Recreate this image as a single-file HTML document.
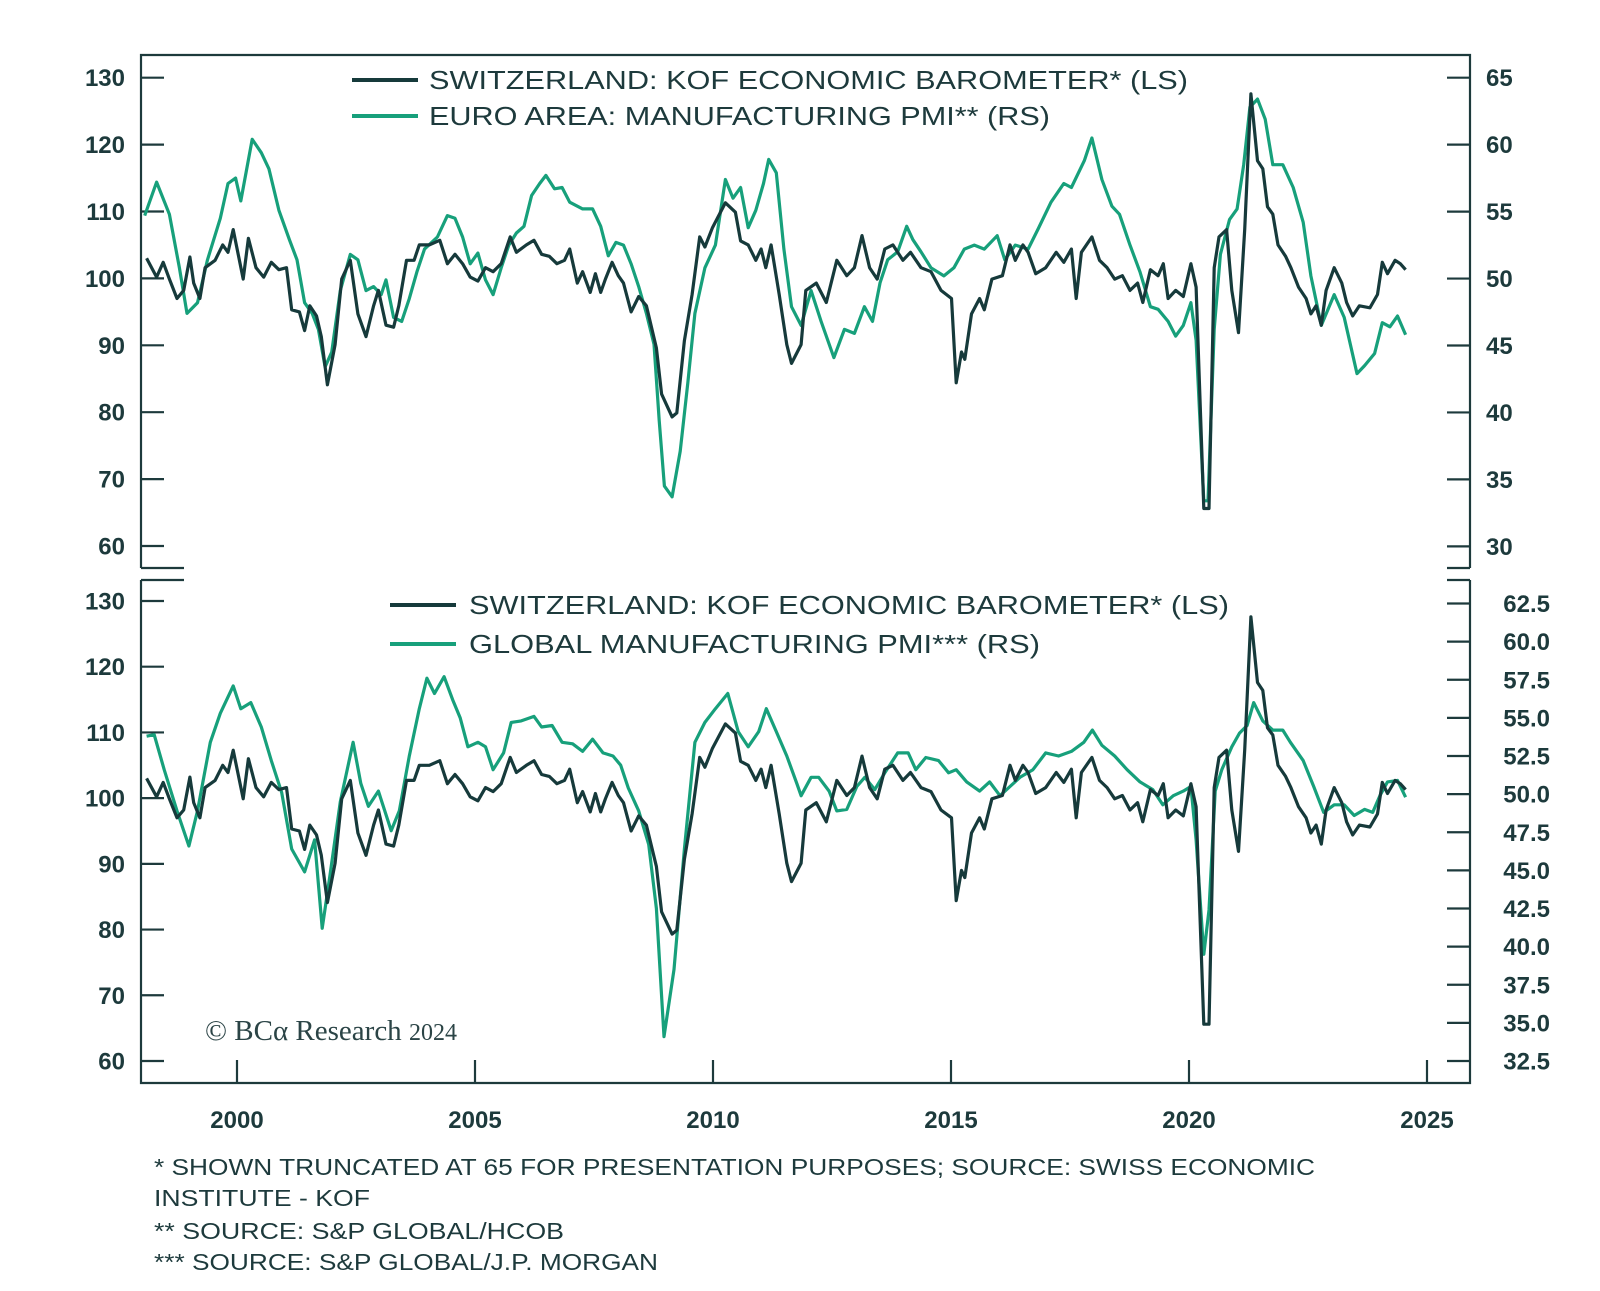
<!DOCTYPE html>
<html><head><meta charset="utf-8"><style>
html,body{margin:0;padding:0;background:#fff;}
svg{display:block;}
text{font-family:"Liberation Sans",sans-serif;fill:#1d3a3c;}
.tk{font-size:24px;font-weight:bold;}
.lg{font-size:26px;}
.fn{font-size:23px;}
</style></head><body>
<svg id="chart" width="1600" height="1291" viewBox="0 0 1600 1291" xmlns="http://www.w3.org/2000/svg">
<g id="frame" stroke="#1d3a3c" stroke-width="2.2" fill="none">
<path d="M141,568 L141,55 L1470,55 L1470,568"/>
<path d="M141,568 L184,568 M1447,568 L1470,568"/>
<path d="M141,580 L141,1083 L1470,1083 L1470,580"/>
<path d="M141,580 L184,580 M1447,580 L1470,580"/>
</g>
<g id="axes"></g>
<g id="series"></g>
<g>
<line x1="352" y1="80" x2="418" y2="80" stroke="#163a3b" stroke-width="4"/>
<line x1="352" y1="116" x2="418" y2="116" stroke="#17a07b" stroke-width="4"/>
<text class="lg" x="429" y="89" textLength="759" lengthAdjust="spacingAndGlyphs">SWITZERLAND: KOF ECONOMIC BAROMETER* (LS)</text>
<text class="lg" x="429" y="125" textLength="621" lengthAdjust="spacingAndGlyphs">EURO AREA: MANUFACTURING PMI** (RS)</text>
</g>
<g>
<line x1="390" y1="605" x2="456" y2="605" stroke="#163a3b" stroke-width="4"/>
<line x1="390" y1="644" x2="456" y2="644" stroke="#17a07b" stroke-width="4"/>
<text class="lg" x="469" y="614" textLength="760" lengthAdjust="spacingAndGlyphs">SWITZERLAND: KOF ECONOMIC BAROMETER* (LS)</text>
<text class="lg" x="469" y="653" textLength="571" lengthAdjust="spacingAndGlyphs">GLOBAL MANUFACTURING PMI*** (RS)</text>
</g>
<text x="205" y="1040" style="font-family:'Liberation Serif',serif;font-size:29px;fill:#2b4446">© BCα Research <tspan style="font-size:24px">2024</tspan></text>
<g>
<text class="fn" x="154" y="1175" textLength="1161" lengthAdjust="spacingAndGlyphs">* SHOWN TRUNCATED AT 65 FOR PRESENTATION PURPOSES; SOURCE: SWISS ECONOMIC</text>
<text class="fn" x="154" y="1206" textLength="216" lengthAdjust="spacingAndGlyphs">INSTITUTE - KOF</text>
<text class="fn" x="154" y="1239" textLength="410" lengthAdjust="spacingAndGlyphs">** SOURCE: S&amp;P GLOBAL/HCOB</text>
<text class="fn" x="154" y="1270" textLength="504" lengthAdjust="spacingAndGlyphs">*** SOURCE: S&amp;P GLOBAL/J.P. MORGAN</text>
</g>
</svg>
<script>
const kofDates=[1998.1,1998.31,1998.45,1998.58,1998.74,1998.88,1999.01,1999.09,1999.22,1999.33,1999.54,1999.7,1999.81,1999.92,2000.13,2000.24,2000.4,2000.56,2000.72,2000.88,2001.04,2001.15,2001.31,2001.42,2001.53,2001.67,2001.77,2001.9,2002.06,2002.2,2002.38,2002.54,2002.71,2002.87,2002.97,2003.13,2003.29,2003.4,2003.56,2003.72,2003.83,2004.04,2004.26,2004.42,2004.58,2004.74,2004.9,2005.06,2005.22,2005.38,2005.55,2005.74,2005.87,2006.08,2006.24,2006.4,2006.56,2006.72,2006.88,2006.99,2007.15,2007.26,2007.42,2007.53,2007.64,2007.74,2007.88,2008.01,2008.12,2008.28,2008.44,2008.6,2008.81,2008.92,2009.14,2009.24,2009.4,2009.56,2009.72,2009.83,2009.99,2010.26,2010.47,2010.58,2010.74,2010.9,2011.01,2011.11,2011.22,2011.39,2011.55,2011.65,2011.85,2011.95,2012.17,2012.38,2012.6,2012.81,2012.97,2013.13,2013.29,2013.45,2013.61,2013.78,2013.99,2014.15,2014.37,2014.58,2014.79,2015.01,2015.11,2015.22,2015.29,2015.43,2015.6,2015.7,2015.86,2016.08,2016.24,2016.35,2016.51,2016.62,2016.78,2016.99,2017.21,2017.37,2017.53,2017.63,2017.74,2017.96,2018.12,2018.28,2018.44,2018.6,2018.76,2018.92,2019.03,2019.19,2019.35,2019.46,2019.56,2019.72,2019.88,2020.04,2020.15,2020.31,2020.42,2020.53,2020.63,2020.79,2020.9,2021.04,2021.17,2021.3,2021.44,2021.55,2021.65,2021.76,2021.87,2022.03,2022.14,2022.3,2022.46,2022.56,2022.67,2022.78,2022.88,2023.05,2023.21,2023.31,2023.44,2023.58,2023.8,2023.96,2024.06,2024.17,2024.33,2024.44,2024.55];
const kofValues=[103,100.2,102.4,99.9,97,98.2,103.2,99.3,97,101.6,102.7,105,103.9,107.3,99.9,106,101.6,100.2,102.4,101.3,101.6,95.3,95,92.2,95.9,94.4,91.3,84.1,90.1,99.9,102.7,94.7,91.3,95.9,98.2,93,92.7,95.9,102.7,102.7,105,105,105.7,102.2,103.6,102.2,100.2,99.6,101.6,101,102.2,106.2,103.9,105,105.7,103.6,103.3,102.2,102.7,104.4,99.3,101,97.9,100.7,97.9,99.9,102.4,100.4,99.3,95,97.3,95.9,89.6,82.7,79.3,79.9,90.7,97.6,106.2,104.7,107.6,111.3,109.9,105.6,105,102.7,104.4,101.6,105,97.6,90.1,87.3,90.1,98.2,99.3,96.4,102.7,100.4,101.6,106.4,101.6,99.9,104.4,105,102.7,103.9,101.6,101,98.2,97,84.4,89,87.9,94.7,97,95.3,99.9,100.4,105,102.7,105,103.9,100.7,101.6,103.9,102.4,104.4,97,103.9,106.2,102.7,101.6,99.9,100.4,98.2,99.3,96.4,101.3,100.4,102.2,97,98.2,97.3,102.2,98.7,65.6,65.6,101.6,106.2,107.3,98.2,91.9,107.3,127.6,117.6,116.4,110.7,109.6,105,103.3,101.6,98.7,97,94.7,95.9,93,98.2,101.6,99.3,96.4,94.4,95.9,95.6,97.6,102.4,100.7,102.7,102.2,101.3];
const euroDates=[1998.06,1998.31,1998.58,1998.79,1998.95,1999.17,1999.38,1999.65,1999.81,1999.97,2000.08,2000.32,2000.51,2000.67,2000.88,2001.1,2001.26,2001.42,2001.58,2001.71,2001.85,2001.99,2002.17,2002.38,2002.54,2002.71,2002.87,2003.03,2003.13,2003.29,2003.46,2003.62,2003.78,2003.94,2004.21,2004.42,2004.58,2004.74,2004.9,2005.06,2005.22,2005.38,2005.55,2005.71,2005.87,2006.03,2006.19,2006.36,2006.49,2006.67,2006.83,2006.99,2007.26,2007.47,2007.64,2007.8,2007.96,2008.12,2008.28,2008.44,2008.6,2008.76,2008.87,2008.98,2009.14,2009.31,2009.47,2009.62,2009.83,2010.05,2010.26,2010.42,2010.58,2010.74,2010.9,2011.06,2011.17,2011.33,2011.49,2011.65,2011.85,2012.06,2012.27,2012.54,2012.76,2012.97,2013.18,2013.35,2013.51,2013.67,2013.88,2014.07,2014.2,2014.37,2014.58,2014.85,2015.06,2015.28,2015.49,2015.7,2015.97,2016.13,2016.35,2016.62,2016.83,2017.1,2017.37,2017.53,2017.8,2017.96,2018.17,2018.38,2018.54,2018.76,2018.97,2019.19,2019.35,2019.56,2019.72,2019.88,2020.04,2020.15,2020.31,2020.4,2020.53,2020.66,2020.85,2021.01,2021.15,2021.28,2021.44,2021.6,2021.76,2021.97,2022.19,2022.4,2022.56,2022.78,2023.05,2023.26,2023.53,2023.69,2023.9,2024.06,2024.22,2024.38,2024.55];
const euroValues=[54.7,57.2,54.8,50.8,47.4,48.2,51.4,54.5,57.1,57.5,55.8,60.4,59.4,58.2,55.1,52.9,51.4,48.2,47.4,46.2,43.4,44.5,49.1,51.8,51.4,49.1,49.4,48.8,49.9,47.1,46.8,48.5,50.5,52.2,53.1,54.7,54.5,53.1,51.1,51.9,49.9,48.8,50.8,52.5,53.4,53.9,56.2,57.1,57.7,56.7,56.8,55.7,55.2,55.2,53.9,51.7,52.7,52.5,51.1,49.4,47.4,45.1,39.4,34.5,33.7,37.1,42.2,47.4,50.8,52.5,57.4,56,56.8,53.8,55.1,57.1,58.9,57.9,52.2,47.9,46.5,49.1,46.8,44.1,46.2,45.9,47.9,46.8,49.7,51.4,52,53.9,52.9,52,50.8,50.2,50.8,52.2,52.5,52.2,53.2,51.4,52.5,52.2,53.7,55.7,57.1,56.8,58.8,60.5,57.4,55.4,54.8,52.5,50.5,47.9,47.7,46.8,45.7,46.5,48.2,45.4,33.4,33.4,46.2,51.8,54.4,55.2,58.5,62.8,63.4,61.9,58.5,58.5,56.8,54.2,50.2,46.5,48.8,47.1,42.9,43.5,44.4,46.7,46.4,47.2,45.8];
const globalDates=[1998.1,1998.26,1998.47,1998.74,1998.99,1999.17,1999.44,1999.65,1999.92,2000.08,2000.29,2000.51,2000.72,2000.94,2001.15,2001.42,2001.63,2001.79,2001.95,2002.17,2002.44,2002.6,2002.76,2002.97,2003.24,2003.41,2003.62,2003.83,2003.99,2004.15,2004.35,2004.53,2004.69,2004.85,2005.06,2005.22,2005.38,2005.6,2005.76,2005.97,2006.24,2006.4,2006.62,2006.83,2007.05,2007.26,2007.47,2007.69,2007.9,2008.06,2008.22,2008.44,2008.65,2008.81,2008.97,2009.18,2009.4,2009.62,2009.83,2010.05,2010.31,2010.53,2010.74,2010.96,2011.12,2011.33,2011.55,2011.76,2011.85,2012.06,2012.22,2012.44,2012.6,2012.81,2013.02,2013.19,2013.4,2013.61,2013.88,2014.1,2014.26,2014.47,2014.74,2014.95,2015.11,2015.33,2015.6,2015.81,2016.03,2016.24,2016.45,2016.72,2016.99,2017.26,2017.53,2017.79,2017.97,2018.17,2018.44,2018.7,2018.97,2019.24,2019.45,2019.67,2019.88,2020.04,2020.15,2020.31,2020.42,2020.55,2020.69,2020.9,2021.06,2021.22,2021.36,2021.55,2021.76,2021.97,2022.13,2022.4,2022.62,2022.83,2023.05,2023.26,2023.47,2023.69,2023.86,2024.01,2024.17,2024.38,2024.55];
const globalValues=[53.8,53.9,51.6,48.9,46.6,48.9,53.4,55.3,57.1,55.6,56,54.4,52.2,50.1,46.4,44.9,47,41.2,44.6,49.5,53.4,50.7,49.2,50.2,47.6,48.9,52.5,55.6,57.6,56.6,57.7,56.2,55,53.1,53.4,53.1,51.6,52.7,54.7,54.8,55.1,54.4,54.5,53.4,53.3,52.8,53.6,52.7,52.5,51.9,50.4,48.9,46.7,42.5,34.1,38.5,46.4,53.4,54.7,55.6,56.6,54.1,53.1,54.1,55.6,54.1,52.5,50.7,49.9,51.1,51.1,50.2,48.9,49,50.5,51.1,50.3,51.4,52.7,52.7,51.6,52.4,52.2,51.4,51.6,50.8,50.2,50.8,49.9,50.5,51.1,51.6,52.7,52.5,52.8,53.4,54.2,53.2,52.5,51.6,50.8,50.3,49.3,49.9,50.2,50.5,47,39.5,42.4,50.2,51.6,53.1,54,54.5,56,54.8,54.2,54.2,53.4,52.2,50.5,48.8,49.3,49.3,48.6,49,48.8,49.9,50.8,50.9,49.8];
const leftTicks=[130,120,110,100,90,80,70,60];
const topRightTicks=[65,60,55,50,45,40,35,30];
const botRightTicks=["62.5","60.0","57.5","55.0","52.5","50.0","47.5","45.0","42.5","40.0","37.5","35.0","32.5"];
const yearTicks=[2000,2005,2010,2015,2020,2025];

const NS="http://www.w3.org/2000/svg";
const xS=y=>237+(y-2000)*47.6;
const yTopL=v=>77.7+(130-v)*6.69;
const yTopR=v=>77.7+(65-v)*13.39;
const yBotL=v=>601+(130-v)*6.571;
const yBotR=v=>603.5+(62.5-v)*15.25;
const axes=document.getElementById('axes');
const series=document.getElementById('series');
function mk(tag,attrs,parent){const e=document.createElementNS(NS,tag);for(const k in attrs)e.setAttribute(k,attrs[k]);parent.appendChild(e);return e;}
function tick(x1,y1,x2,y2){return mk('line',{x1:x1,y1:y1,x2:x2,y2:y2,stroke:'#1d3a3c','stroke-width':2.2},axes);}
function label(x,y,txt,anchor){const t=mk('text',{x:x,y:y,class:'tk','text-anchor':anchor},axes);t.textContent=txt;return t;}
leftTicks.forEach(v=>{
  [yTopL(v),yBotL(v)].forEach(y=>{
    const l=tick(141,y,164,y);
    
    
    const t=label(125,y+8.5,String(v),'end');
    
    
  });
});
topRightTicks.forEach(v=>{
  const y=yTopR(v);
  const l=tick(1447,y,1470,y);
  
  
  const t=label(1486,y+8.5,String(v),'start');
  
  
});
botRightTicks.forEach(s=>{
  const y=yBotR(parseFloat(s));
  const l=tick(1447,y,1470,y);
  
  
  const t=label(1550,y+8.5,s,'end');
  
  
});
yearTicks.forEach(yr=>{
  const x=xS(yr);
  const l=tick(x,1060,x,1083);
  
  
  const t=label(x,1128,String(yr),'middle');
  
  
});
function line(dates,vals,yf,color,name){
  let d='';
  dates.forEach((dt,i)=>{d+=(i?'L':'M')+xS(dt).toFixed(1)+','+yf(vals[i]).toFixed(1);});
  const p=mk('path',{d:d,fill:'none',stroke:color,'stroke-width':3.2,'stroke-linejoin':'round'},series);
  
  
}
line(euroDates,euroValues,yTopR,'#17a07b','euro-pmi-line');
line(kofDates,kofValues,yTopL,'#163a3b','kof-line-top');
line(globalDates,globalValues,yBotR,'#17a07b','global-pmi-line');
line(kofDates,kofValues,yBotL,'#163a3b','kof-line-bottom');
</script>
</body></html>
